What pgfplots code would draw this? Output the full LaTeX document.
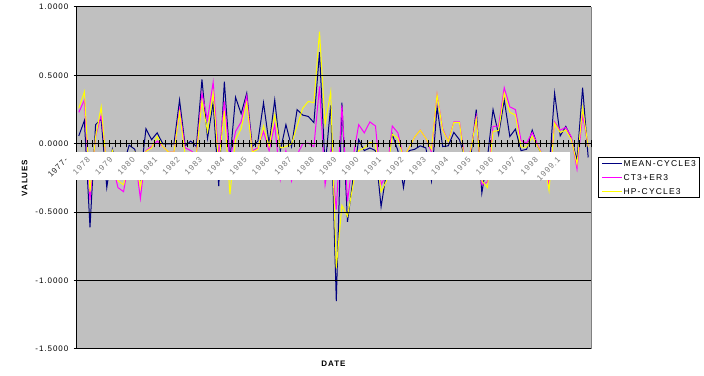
\documentclass[border=0pt]{standalone}
\usepackage{pgfplots}
\pgfplotsset{compat=1.18}
\usepackage{pgfplotstable}
\usepackage{fontspec}
\setmainfont{Liberation Sans}
\newfontfamily\chartfont[LetterSpace=12]{Liberation Sans}
\newfontfamily\legendfont[LetterSpace=14]{Liberation Sans}

\definecolor{meanblue}{RGB}{0,0,128}
\definecolor{ctpink}{RGB}{255,0,255}
\definecolor{hpyellow}{RGB}{255,255,0}
\definecolor{plotgray}{RGB}{192,192,192}
\definecolor{yeargray}{RGB}{120,120,120}
% year label, pushed down the slant away from the axis
\newcommand\yl[1]{#1\hspace*{17.5bp}}

% quarterly cycle estimates, 1977Q1 .. 1999Q4
\pgfplotstableread{
q mean ct hp
0 0.058 0.23 0.26
1 0.17 0.32 0.38
2 -0.61 -0.41 -0.35
3 0.14 0.05 0.05
4 0.18 0.21 0.27
5 -0.32 -0.15 -0.18
6 -0.04 -0.15 -0.05
7 -0.20 -0.32 -0.27
8 -0.15 -0.35 -0.30
9 -0.01 -0.10 -0.10
10 -0.04 -0.08 -0.06
11 -0.25 -0.40 -0.32
12 0.11 -0.05 -0.055
13 0.03 -0.02 -0.03
14 0.08 0.02 0.055
15 0.00 -0.02 -0.02
16 0.00 -0.06 -0.06
17 0.00 -0.06 -0.06
18 0.32 0.25 0.23
19 -0.015 -0.03 -0.08
20 0.02 -0.05 -0.06
21 -0.02 -0.08 -0.08
22 0.47 0.37 0.31
23 0.04 0.175 0.09
24 0.30 0.45 0.37
25 -0.31 -0.10 -0.15
26 0.455 0.31 0.24
27 -0.12 -0.12 -0.37
28 0.34 0.09 0.03
29 0.22 0.16 0.11
30 0.37 0.35 0.30
31 -0.02 -0.05 -0.06
32 0.02 -0.03 -0.04
33 0.30 0.09 0.13
34 0.00 -0.05 -0.02
35 0.32 0.14 0.21
36 -0.05 -0.26 -0.03
37 0.14 -0.05 -0.02
38 -0.02 -0.27 0.00
39 0.25 -0.08 0.13
40 0.21 0.00 0.26
41 0.20 0.005 0.31
42 0.155 -0.02 0.30
43 0.67 0.42 0.82
44 -0.17 -0.30 0.14
45 0.28 -0.05 0.38
46 -1.15 -0.48 -0.91
47 0.30 0.28 -0.45
48 -0.57 -0.42 -0.53
49 -0.25 -0.10 -0.30
50 0.03 0.14 -0.05
51 -0.05 0.08 -0.03
52 -0.03 0.16 0.01
53 -0.05 0.13 0.00
54 -0.46 -0.30 -0.35
55 -0.20 -0.22 -0.27
56 0.07 0.13 0.07
57 -0.05 0.08 0.04
58 -0.32 -0.10 -0.10
59 -0.05 -0.03 -0.03
60 -0.04 0.05 0.05
61 -0.015 0.10 0.10
62 -0.03 0.04 0.04
63 -0.27 -0.06 -0.04
64 0.27 0.36 0.36
65 -0.02 0.11 0.10
66 -0.015 0.017 0.017
67 0.083 0.16 0.155
68 0.03 0.16 0.155
69 -0.10 -0.12 -0.15
70 -0.10 -0.05 -0.05
71 0.25 0.20 0.18
72 -0.36 -0.30 -0.27
73 -0.10 -0.28 -0.32
74 0.25 0.127 0.09
75 0.066 0.13 0.097
76 0.32 0.41 0.37
77 0.053 0.27 0.23
78 0.107 0.25 0.21
79 -0.05 0.024 -0.024
80 -0.04 0.005 -0.024
81 0.10 0.083 0.054
82 -0.02 -0.01 -0.02
83 -0.10 -0.10 -0.10
84 -0.20 -0.30 -0.34
85 0.37 0.16 0.15
86 0.058 0.10 0.083
87 0.127 0.12 0.10
88 0.04 0.05 0.03
89 -0.12 -0.185 -0.15
90 0.41 0.21 0.26
91 -0.10 -0.015 -0.024
}\cycles

\begin{document}
\begin{tikzpicture}
\fill[white] (0,0) rectangle (704bp,376bp);
\begin{axis}[
  at={(76bp,27bp)}, anchor=south west,
  scale only axis, width=515bp, height=342bp,
  xmin=-0.5, xmax=91.5, ymin=-1.5, ymax=1,
  clip=false,
  axis on top,
  axis x line=middle, axis y line=left,
  axis line style={-},
  x axis line style={black, line width=1.2bp},
  y axis line style={draw=none},
  axis background/.style={fill=plotgray},
  ytick={-1.5,-1,-0.5,0,0.5,1},
  yticklabels={-1.5000,-1.0000,-0.5000,0.0000,0.5000,1.0000},
  ymajorgrids,
  grid style={black, line width=1bp},
  xtick={0,4,...,88},
  xticklabels={{\yl{\textcolor{black!85}{1977-}}},\yl{1978},\yl{1979},\yl{1980},\yl{1981},\yl{1982},\yl{1983},\yl{1984},\yl{1985},\yl{1986},\yl{1987},\yl{1988},\yl{1989},\yl{1990},\yl{1991},\yl{1992},\yl{1993},\yl{1994},\yl{1995},\yl{1996},\yl{1997},\yl{1998},\yl{1999.1}},
  minor xtick={-0.5,0.5,...,91.5},
  tick align=center,
  major tick length=5bp, minor tick length=7bp,
  major x tick style={draw=none},
  minor x tick style={black, line width=1bp},
  major y tick style={black, line width=1bp},
  hide obscured x ticks=false, hide obscured y ticks=false,
  yticklabel style={font=\chartfont\fontsize{8bp}{9bp}\selectfont, inner sep=0pt, anchor=east, xshift=-5bp},
  xticklabel style={font=\chartfont\fontsize{8bp}{9bp}\selectfont, text=yeargray, inner sep=0pt,
    rotate=45, anchor=east},
  xlabel={DATE}, ylabel={VALUES},
  every axis x label/.style={at={(rel axis cs:0.5,0)}, yshift=-15bp, anchor=center,
    font=\chartfont\bfseries\fontsize{8bp}{9bp}\selectfont},
  every axis y label/.style={at={(rel axis cs:0,0.5)}, xshift=-51.5bp, rotate=90, anchor=center,
    font=\chartfont\bfseries\fontsize{8bp}{9bp}\selectfont},
  legend style={at={(1,0.5614)}, anchor=north west, xshift=7bp,
    draw=black, line width=1bp, fill=white,
    font=\legendfont\fontsize{8.5bp}{10bp}\selectfont,
    inner xsep=3bp, inner ysep=2.5bp, row sep=7bp,
    nodes={inner xsep=1bp, inner ysep=0.5bp, text height=6.1bp, text depth=0bp}},
  legend cell align=left,
  legend image code/.code={\draw[#1, line width=1bp] (0bp,0bp) -- (20bp,0bp);},
]
% left value axis line, beneath the series
\draw[black, line width=1bp] (rel axis cs:0,0) -- (rel axis cs:0,1);
\addplot[meanblue, line width=1bp] table[x=q, y=mean] {\cycles};
\addlegendentry{MEAN-CYCLE3}
\addplot[ctpink, line width=1bp] table[x=q, y=ct] {\cycles};
\addlegendentry{CT3+ER3}
\addplot[hpyellow, line width=1bp] table[x=q, y=hp] {\cycles};
\addlegendentry{HP-CYCLE3}
% white backing strip behind the year labels
\fill[white] (axis cs:-1.57,-0.058) rectangle (axis cs:87.75,-0.263);
% plot area border on the right and bottom
\draw[black!50, line width=1bp] (rel axis cs:0,0) -- (rel axis cs:1,0) -- (rel axis cs:1,1);
\end{axis}
\end{tikzpicture}
\end{document}
